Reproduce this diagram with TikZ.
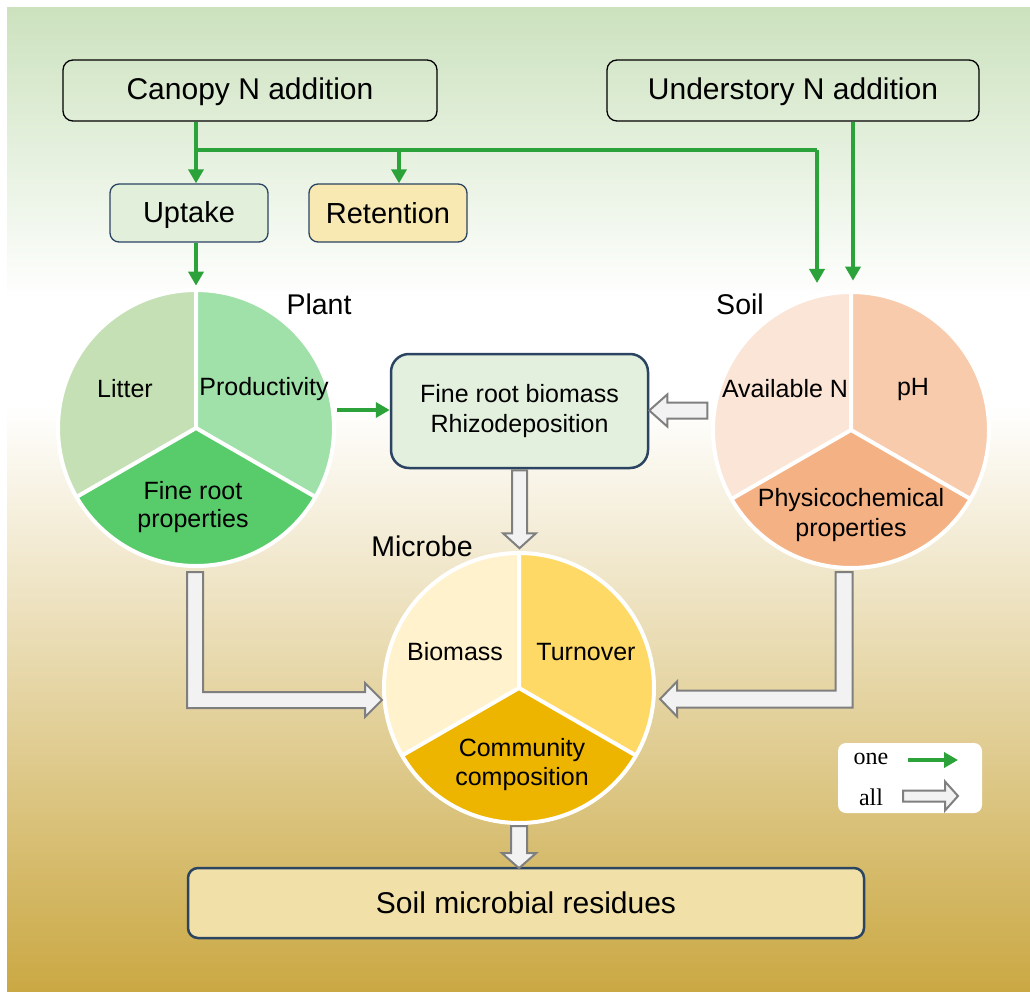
\documentclass[tikz,border=0pt]{standalone}
\usepackage{fontspec}
\setmainfont{Liberation Sans}
\newfontfamily\legendfont{Liberation Serif}
\usetikzlibrary{arrows.meta,calc}
\definecolor{gline}{HTML}{2CA23A}
\definecolor{navy}{HTML}{2A4462}
\definecolor{hgray}{HTML}{7F7F7F}
\definecolor{hfill}{HTML}{F2F2F2}
\definecolor{bgtop}{HTML}{CCE2BE}
\definecolor{bgbot}{HTML}{CAA843}
\definecolor{pA}{HTML}{C5E0B4}
\definecolor{pB}{HTML}{A0E0A9}
\definecolor{pC}{HTML}{58CB6B}
\definecolor{sA}{HTML}{FBE5D6}
\definecolor{sB}{HTML}{F8CBAD}
\definecolor{sC}{HTML}{F4B183}
\definecolor{mA}{HTML}{FFF2CC}
\definecolor{mB}{HTML}{FFD966}
\definecolor{mC}{HTML}{EDB400}
\definecolor{upfill}{HTML}{E2EFDA}
\definecolor{retfill}{HTML}{F8E8B2}
\definecolor{frbfill}{HTML}{E4F0DE}
\definecolor{resfill}{HTML}{F1E0A8}
\newcommand\mypie[5]{%
  \fill[#3] (#1) -- ++(90:#2) arc[start angle=90,end angle=210,radius=#2] -- cycle;
  \fill[#4] (#1) -- ++(-30:#2) arc[start angle=-30,end angle=90,radius=#2] -- cycle;
  \fill[#5] (#1) -- ++(210:#2) arc[start angle=210,end angle=330,radius=#2] -- cycle;
  \draw[white,line width=4pt] (#1) -- ++(90:#2) (#1) -- ++(210:#2) (#1) -- ++(330:#2);
  \draw[white,line width=4pt] (#1) circle[radius=#2];
}
\tikzset{
  garrow/.style={draw=gline,line width=4pt,line join=miter,-{Triangle[width=15pt,length=14pt]}},
  hollow/.style={draw=hgray,fill=hfill,line width=2pt,line join=miter},
  bigtxt/.style={font=\fontsize{30}{36}\selectfont},
  midtxt/.style={font=\fontsize{29}{34}\selectfont},
  smtxt/.style={font=\fontsize{25}{29}\selectfont,align=center,inner sep=0pt},
  ttl/.style={font=\fontsize{28.5}{34}\selectfont,inner sep=0pt},
  topbox/.style={draw=black,line width=1.3pt,rounded corners=10pt,minimum height=61pt,inner sep=0pt,bigtxt},
  smallbox/.style={draw=navy,line width=1.3pt,rounded corners=9pt,minimum width=158pt,minimum height=58pt,inner sep=0pt,midtxt},
}
\begin{document}
\begin{tikzpicture}[x=1pt,y=1pt]
\useasboundingbox (0,0) rectangle (1030,-992);
% background
\fill[white] (0,0) rectangle (1030,-992);
\shade[top color=bgtop,bottom color=white] (7,-8) rectangle (1030,-300.5);
\fill[white] (7,-300) rectangle (1030,-405.5);
\shade[top color=white,bottom color=bgbot] (7,-405) rectangle (1030,-992);

% top boxes
\node[topbox,minimum width=374pt] (canopy) at (250,-90.5) {};
\node[bigtxt,inner sep=0pt] (canopytxt) at (250,-92) {Canopy N addition};
\node[topbox,minimum width=372pt] (under) at (793,-90.5) {};
\node[bigtxt,inner sep=0pt] (undertxt) at (793,-92) {Understory N addition};
\node[smallbox,fill=upfill] (uptake) at (189,-213) {};
\node[midtxt,inner sep=0pt] (uptaketxt) at (189,-215) {Uptake};
\node[smallbox,fill=retfill] (retention) at (388,-213) {Retention};

% circles
\coordinate (pc) at (196,-428);
\coordinate (sc) at (851,-430);
\coordinate (mc) at (519,-688);
\mypie{pc}{138pt}{pA}{pB}{pC}
\mypie{sc}{138pt}{sA}{sB}{sC}
\mypie{mc}{135pt}{mA}{mB}{mC}
\node[circle,minimum size=280pt,inner sep=0pt] (plant) at (pc) {};
\node[circle,minimum size=280pt,inner sep=0pt] (soil) at (sc) {};
\node[circle,minimum size=274pt,inner sep=0pt] (microbe) at (mc) {};

% circle labels
\node[ttl] (plantlbl) at (319,-304) {Plant};
\node[ttl] (soillbl) at (740,-304) {Soil};
\node[ttl] (microbelbl) at (422,-546) {Microbe};
\node[smtxt] (litter) at (125,-389) {Litter};
\node[smtxt] (prod) at (264,-389) {Productivity};
\node[smtxt] (frp) at (193,-507) {Fine root\\[-1pt]properties};
\node[smtxt] (avn) at (785,-389) {Available N};
\node[smtxt] (ph) at (913,-389) {pH};
\node[smtxt] (phys) at (851,-515) {Physicochemical\\[1pt]properties};
\node[smtxt] (biom) at (455,-652) {Biomass};
\node[smtxt] (turn) at (586,-652) {Turnover};
\node[smtxt] (comm) at (522,-765) {Community\\[0pt]composition};

% fine root box
\node[draw=navy,line width=2.5pt,fill=frbfill,rounded corners=18pt,minimum width=257pt,minimum height=114pt,smtxt] (frb) at (519.5,-411) {Fine root biomass\\[1pt]Rhizodeposition};

% residues box
\node[draw=navy,line width=2.5pt,fill=resfill,rounded corners=10pt,minimum width=676pt,minimum height=70pt,inner sep=0pt,bigtxt] (res) at (526,-903) {Soil microbial residues};

% green arrows
\coordinate (cx) at (196,-150);
\coordinate (rx) at (399,-150);
\coordinate (sx) at (817,-150);
\coordinate (ux) at (853,0);
\draw[garrow] (cx |- canopy.south) -- (cx |- uptake.north);
\draw[draw=gline,line width=4pt] (cx) -- (sx);
\draw[garrow] (sx) -- ++(0,-133);
\draw[garrow] (rx) -- (rx |- retention.north);
\draw[garrow] (ux |- under.south) -- ++(0,-159);
\draw[garrow] (cx |- uptake.south) -- ++(0,-43);
\coordinate (pa) at (337,-410);
\draw[garrow] (pa) -- (pa -| frb.west);

% hollow arrows
% soil -> fine root box
\draw[hollow] ($(frb.east)+(58,8.5)$) -- ++(-40,0) -- ++(0,8) -- ++(-18,-16) -- ++(18,-16) -- ++(0,8) -- ++(40,0) -- cycle;
% fine root box -> microbe
\draw[hollow] ($(frb.south)+(-7.5,-1)$) -- ++(0,-63) -- ++(-9,0) -- ++(16.5,-15) -- ++(16.5,15) -- ++(-9,0) -- ++(0,63) -- cycle;
% microbe -> residues
\draw[hollow] ($(microbe.south)+(-8,-1)$) -- ++(0,-27) -- ++(-9,0) -- ++(17,-15) -- ++(17,15) -- ++(-9,0) -- ++(0,27) -- cycle;
% plant -> microbe (elbow)
\draw[hollow] (187,-572) -- (203,-572) -- (203,-692) -- (365,-692) -- (365,-683) -- (382,-700) -- (365,-717) -- (365,-708) -- (187,-708) -- cycle;
% soil -> microbe (elbow)
\draw[hollow] (852.5,-572) -- (835.5,-572) -- (835.5,-690.5) -- (677,-690.5) -- (677,-681.5) -- (660,-699) -- (677,-716.5) -- (677,-707.5) -- (852.5,-707.5) -- cycle;

% legend
\node[fill=white,rounded corners=8pt,minimum width=144pt,minimum height=70pt,inner sep=0pt] (legend) at (910,-778) {};
\node[font=\legendfont\fontsize{24}{28}\selectfont,inner sep=0pt] (one) at (871,-759) {one};
\node[font=\legendfont\fontsize{24}{28}\selectfont,inner sep=0pt] (all) at (871,-797) {all};
\coordinate (lg1) at (908,-760);
\draw[garrow] (lg1) -- ++(50,0);
\draw[hollow] (903,-790.5) -- (945,-790.5) -- (945,-781.5) -- (958,-796) -- (945,-810.5) -- (945,-801.5) -- (903,-801.5) -- cycle;
\end{tikzpicture}
\end{document}
